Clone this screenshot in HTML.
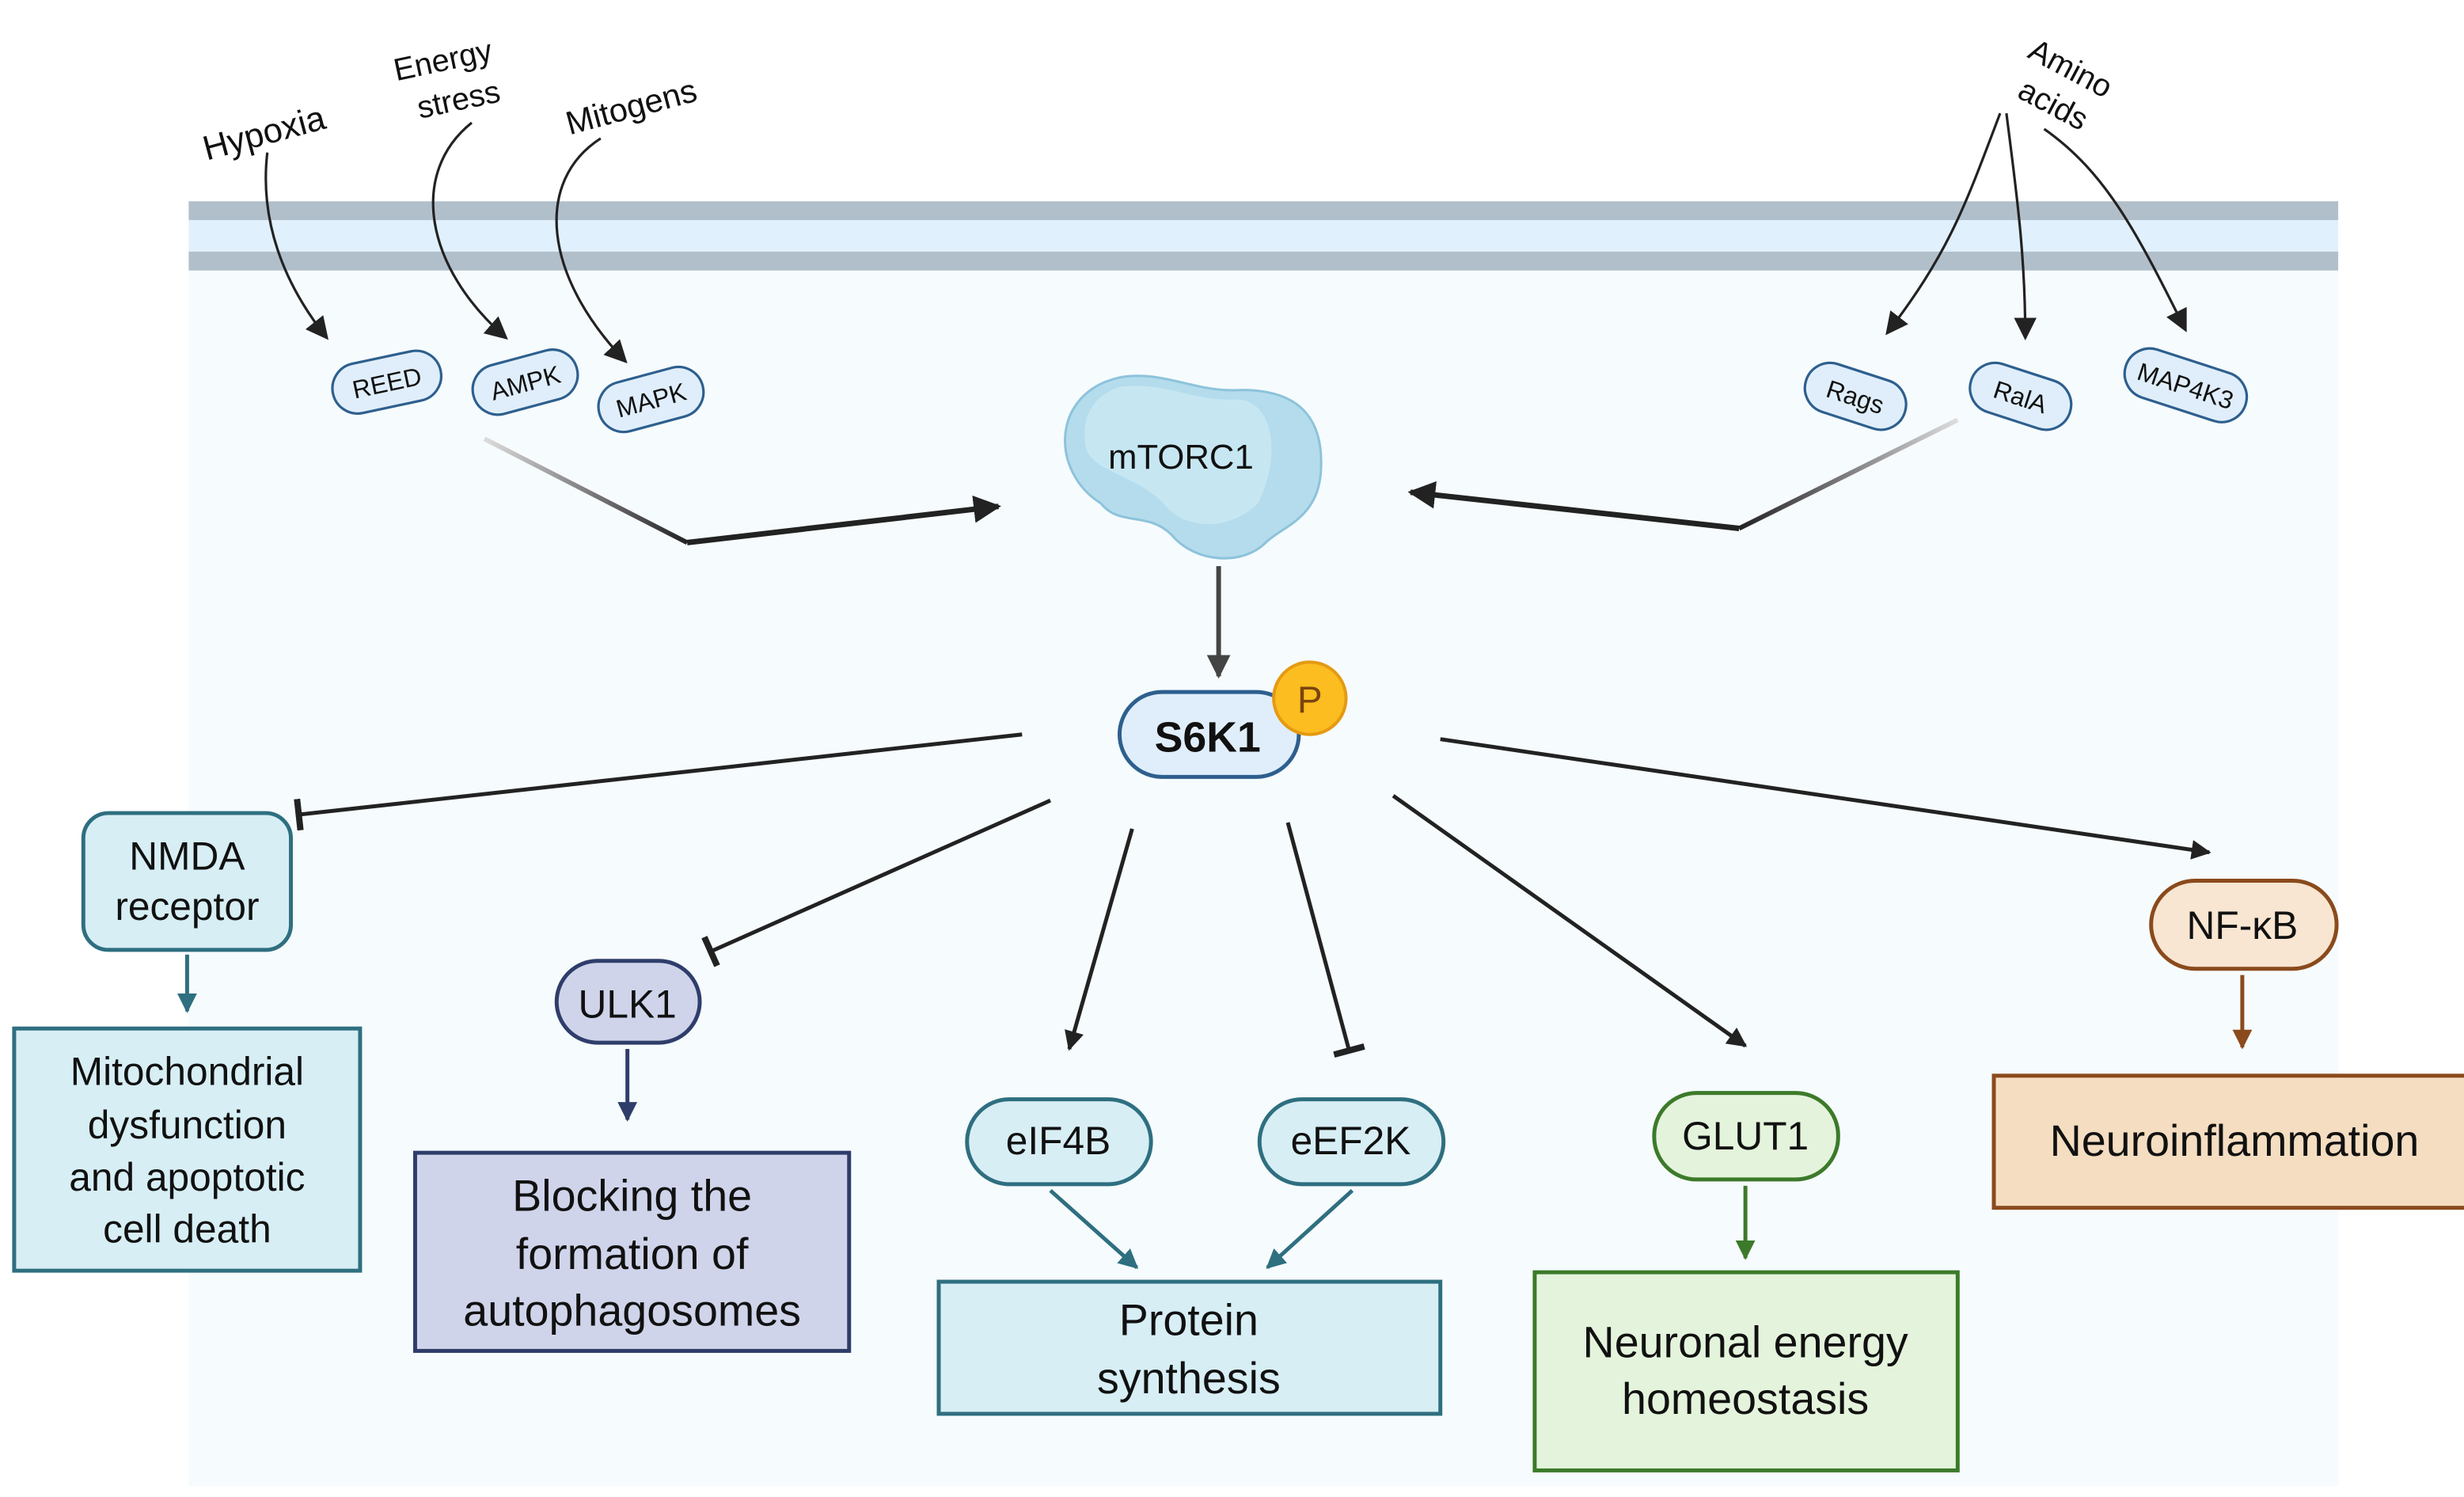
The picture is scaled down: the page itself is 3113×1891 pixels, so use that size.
<!DOCTYPE html>
<html><head><meta charset="utf-8"><style>
html,body{margin:0;padding:0;background:#fff}
svg{display:block}
text{font-family:"Liberation Sans","DejaVu Sans",sans-serif;fill:#111}
</style></head><body>
<svg width="3113" height="1891" viewBox="0 0 1567 951.9" preserveAspectRatio="none" xmlns="http://www.w3.org/2000/svg">
<defs>
<marker id="a" viewBox="0 0 10 10" refX="9" refY="5" markerWidth="5" markerHeight="5" orient="auto-start-reverse"><path d="M0,0 L10,5 L0,10 z" fill="#222"/></marker>
<marker id="as" viewBox="0 0 10 10" refX="9" refY="5" markerWidth="9" markerHeight="9" orient="auto"><path d="M0,0 L10,5 L0,10 z" fill="#222"/></marker>
<marker id="ag" viewBox="0 0 10 10" refX="9" refY="5" markerWidth="5" markerHeight="5" orient="auto"><path d="M0,0 L10,5 L0,10 z" fill="#444"/></marker>
<marker id="t" viewBox="0 0 4 20" refX="2" refY="10" markerWidth="3" markerHeight="8" orient="auto"><rect x="0" y="0" width="4" height="20" fill="#222"/></marker>
<marker id="at" viewBox="0 0 10 10" refX="9" refY="5" markerWidth="5" markerHeight="5" orient="auto"><path d="M0,0 L10,5 L0,10 z" fill="#2e6f80"/></marker>
<marker id="an" viewBox="0 0 10 10" refX="9" refY="5" markerWidth="5" markerHeight="5" orient="auto"><path d="M0,0 L10,5 L0,10 z" fill="#2f3d6b"/></marker>
<marker id="agr" viewBox="0 0 10 10" refX="9" refY="5" markerWidth="5" markerHeight="5" orient="auto"><path d="M0,0 L10,5 L0,10 z" fill="#3c7a2a"/></marker>
<marker id="ab" viewBox="0 0 10 10" refX="9" refY="5" markerWidth="5" markerHeight="5" orient="auto"><path d="M0,0 L10,5 L0,10 z" fill="#8a4a1c"/></marker>
<linearGradient id="g1" x1="0" y1="0" x2="1" y2="0"><stop offset="0" stop-color="#ddd"/><stop offset="1" stop-color="#222"/></linearGradient>
<linearGradient id="g2" x1="1" y1="0" x2="0" y2="0"><stop offset="0" stop-color="#ddd"/><stop offset="1" stop-color="#222"/></linearGradient>
</defs>
<rect x="120" y="128" width="1367" height="817" fill="#f6fbfd"/>
<rect x="120" y="128" width="1367" height="12" fill="#b1bfca"/>
<rect x="120" y="140" width="1367" height="20" fill="#e0f0fd"/>
<rect x="120" y="160" width="1367" height="12" fill="#b1bfca"/>

<text x="168" y="92" font-size="22" transform="rotate(-15 168 85)" text-anchor="middle">Hypoxia</text>
<text x="282" y="45" font-size="20" transform="rotate(-12 282 40)" text-anchor="middle">Energy</text>
<text x="292" y="70" font-size="20" transform="rotate(-12 292 65)" text-anchor="middle">stress</text>
<text x="402" y="75" font-size="21" transform="rotate(-15 402 70)" text-anchor="middle">Mitogens</text>
<text x="1316" y="50" font-size="20" transform="rotate(28 1316 45)" text-anchor="middle">Amino</text>
<text x="1305" y="73" font-size="20" transform="rotate(28 1305 68)" text-anchor="middle">acids</text>

<g fill="none" stroke="#222" stroke-width="1.6">
<path d="M170,97 C165,140 180,180 208,215" marker-end="url(#as)"/>
<path d="M300,78 C260,110 270,170 322,215" marker-end="url(#as)"/>
<path d="M382,88 C340,115 345,175 398,230" marker-end="url(#as)"/>
<path d="M1272,72 C1250,130 1240,160 1200,212" marker-end="url(#as)"/>
<path d="M1276,72 C1282,120 1288,160 1288,215" marker-end="url(#as)"/>
<path d="M1300,82 C1340,110 1360,150 1390,210" marker-end="url(#as)"/>
</g>

<g font-size="16" text-anchor="middle" stroke-width="1.6">
<g transform="rotate(-12 246 243)"><rect x="211" y="227" width="70" height="32" rx="16" fill="#e0eefb" stroke="#2d5f8e"/><text x="246" y="249" stroke="none">REED</text></g>
<g transform="rotate(-15 334 243)"><rect x="300" y="227" width="68" height="32" rx="16" fill="#e0eefb" stroke="#2d5f8e"/><text x="334" y="249" stroke="none">AMPK</text></g>
<g transform="rotate(-15 414 254)"><rect x="380" y="238" width="68" height="32" rx="16" fill="#e0eefb" stroke="#2d5f8e"/><text x="414" y="260" stroke="none">MAPK</text></g>
<g transform="rotate(18 1180 252)"><rect x="1147" y="236" width="66" height="32" rx="16" fill="#e0eefb" stroke="#2d5f8e"/><text x="1180" y="258" stroke="none">Rags</text></g>
<g transform="rotate(18 1285 252)"><rect x="1252" y="236" width="66" height="32" rx="16" fill="#e0eefb" stroke="#2d5f8e"/><text x="1285" y="258" stroke="none">RalA</text></g>
<g transform="rotate(18 1390 245)"><rect x="1350" y="229" width="80" height="32" rx="16" fill="#e0eefb" stroke="#2d5f8e"/><text x="1390" y="251" stroke="none">MAP4K3</text></g>
</g>

<path d="M308,279 L437,345" stroke="url(#g1)" stroke-width="3" fill="none"/>
<path d="M437,345 L635,322" stroke="#222" stroke-width="3.5" fill="none" marker-end="url(#a)"/>
<path d="M1245,267 L1106,336" stroke="url(#g2)" stroke-width="3" fill="none"/>
<path d="M1106,336 L897,313" stroke="#222" stroke-width="3.5" fill="none" marker-end="url(#a)"/>

<path d="M712,240 C740,235 760,250 790,248 C830,248 842,270 840,300 C838,330 815,335 805,345 C790,360 760,358 745,340 C730,325 712,335 700,320 C668,300 668,250 712,240 z" fill="#b5dcec" stroke="#8cc3db" stroke-width="1.5"/>
<path d="M712,246 C740,242 760,256 788,254 C810,256 815,290 800,320 C780,340 750,335 740,320 C720,300 690,300 690,280 C688,260 700,250 712,246z" fill="#c6e7f2"/>
<text x="751" y="298" font-size="22" text-anchor="middle">mTORC1</text>
<path d="M775,360 L775,430" stroke="#444" stroke-width="3" marker-end="url(#ag)"/>

<rect x="712" y="440" width="114" height="54" rx="27" fill="#e0eefb" stroke="#2d5f8e" stroke-width="2.5"/>
<text x="768" y="478" font-size="27" font-weight="bold" text-anchor="middle">S6K1</text>
<circle cx="833" cy="444" r="23" fill="#fbbd1f" stroke="#e59a12" stroke-width="2"/>
<text x="833" y="453" font-size="24" style="fill:#7a4410" text-anchor="middle">P</text>

<g fill="none" stroke="#222" stroke-width="2.5">
<path d="M650,467 L190,518" marker-end="url(#t)"/>
<path d="M668,509 L452,605" marker-end="url(#t)"/>
<path d="M720,527 L680,667" marker-end="url(#a)"/>
<path d="M819,523 L858,668" marker-end="url(#t)"/>
<path d="M886,506 L1110,665" marker-end="url(#a)"/>
<path d="M916,470 L1405,542" marker-end="url(#a)"/>
</g>

<rect x="53" y="517" width="132" height="87" rx="16" fill="#d7eef5" stroke="#2e6f80" stroke-width="2.5"/>
<text x="119" y="553" font-size="25" text-anchor="middle">NMDA</text>
<text x="119" y="585" font-size="25" text-anchor="middle">receptor</text>
<path d="M119,607 L119,643" stroke="#2e6f80" stroke-width="2.5" marker-end="url(#at)"/>
<rect x="9" y="654" width="220" height="154" fill="#d7eef5" stroke="#2e6f80" stroke-width="2.5"/>
<g font-size="25" text-anchor="middle"><text x="119" y="690">Mitochondrial</text><text x="119" y="724">dysfunction</text><text x="119" y="757">and apoptotic</text><text x="119" y="790">cell death</text></g>

<rect x="354" y="611" width="91" height="52" rx="26" fill="#cfd4ea" stroke="#2f3d6b" stroke-width="2.5"/>
<text x="399" y="647" font-size="25" text-anchor="middle">ULK1</text>
<path d="M399,667 L399,712" stroke="#2f3d6b" stroke-width="2.5" marker-end="url(#an)"/>
<rect x="264" y="733" width="276" height="126" fill="#cfd4ea" stroke="#2f3d6b" stroke-width="2.5"/>
<g font-size="28" text-anchor="middle"><text x="402" y="770">Blocking the</text><text x="402" y="807">formation of</text><text x="402" y="843">autophagosomes</text></g>

<rect x="615" y="699" width="117" height="54" rx="27" fill="#d7eef5" stroke="#2e6f80" stroke-width="2.5"/>
<text x="673" y="734" font-size="25" text-anchor="middle">eIF4B</text>
<rect x="801" y="699" width="117" height="54" rx="27" fill="#d7eef5" stroke="#2e6f80" stroke-width="2.5"/>
<text x="859" y="734" font-size="25" text-anchor="middle">eEF2K</text>
<path d="M668,757 L723,806" stroke="#2e6f80" stroke-width="2.5" marker-end="url(#at)"/>
<path d="M860,757 L806,806" stroke="#2e6f80" stroke-width="2.5" marker-end="url(#at)"/>
<rect x="597" y="815" width="319" height="84" fill="#d7eef5" stroke="#2e6f80" stroke-width="2.5"/>
<g font-size="28" text-anchor="middle"><text x="756" y="849">Protein</text><text x="756" y="886">synthesis</text></g>

<rect x="1052" y="695" width="117" height="55" rx="27" fill="#e4f4dc" stroke="#3c7a2a" stroke-width="2.5"/>
<text x="1110" y="731" font-size="25" text-anchor="middle">GLUT1</text>
<path d="M1110,754 L1110,800" stroke="#3c7a2a" stroke-width="2.5" marker-end="url(#agr)"/>
<rect x="976" y="809" width="269" height="126" fill="#e4f4dc" stroke="#3c7a2a" stroke-width="2.5"/>
<g font-size="28" text-anchor="middle"><text x="1110" y="863">Neuronal energy</text><text x="1110" y="899">homeostasis</text></g>

<rect x="1368" y="560" width="118" height="56" rx="28" fill="#f8e6d2" stroke="#8a4a1c" stroke-width="2.5"/>
<text x="1426" y="597" font-size="25" text-anchor="middle">NF-κB</text>
<path d="M1426,620 L1426,666" stroke="#8a4a1c" stroke-width="2.5" marker-end="url(#ab)"/>
<rect x="1268" y="684" width="340" height="84" fill="#f5ddc1" stroke="#8a4a1c" stroke-width="2.5"/>
<text x="1421" y="735" font-size="28" text-anchor="middle">Neuroinflammation</text>
</svg>
</body></html>
